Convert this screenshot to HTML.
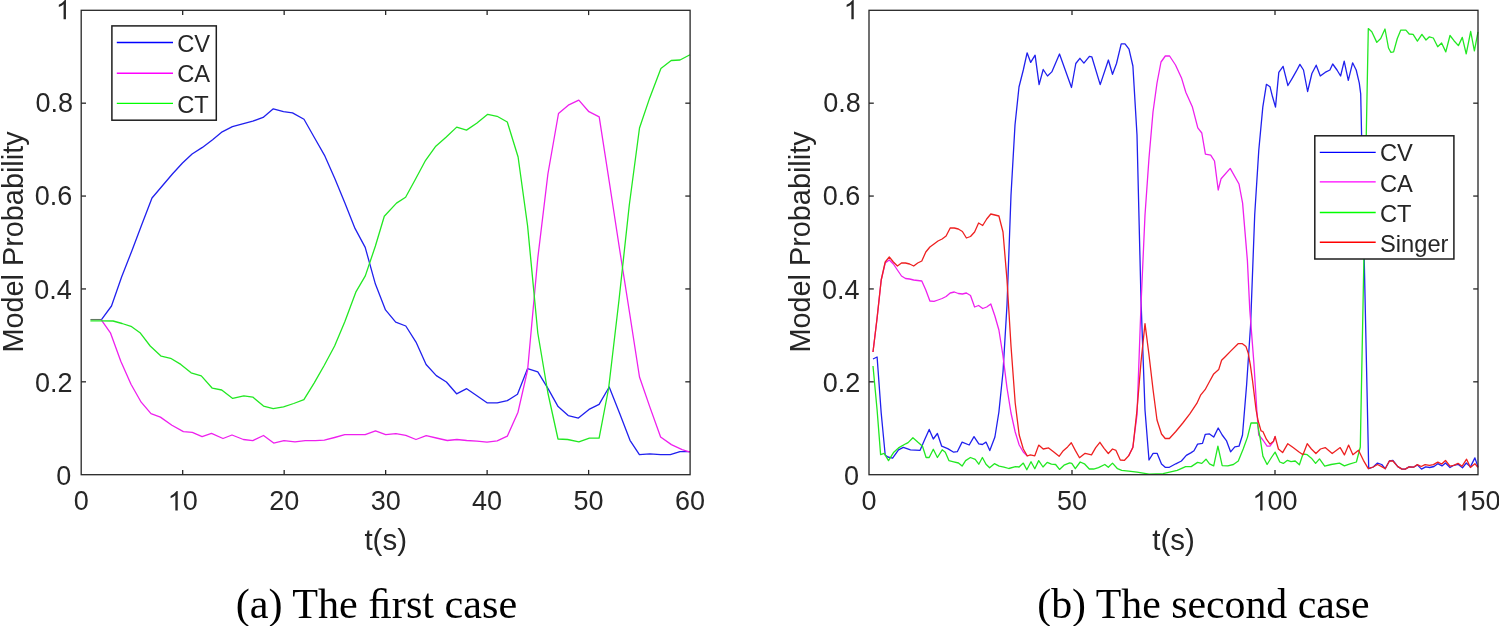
<!DOCTYPE html>
<html><head><meta charset="utf-8"><style>
html,body{margin:0;padding:0;background:#fff;}
body{width:1499px;height:626px;overflow:hidden;}
svg{display:block;will-change:transform;}
text{font-family:"Liberation Sans",sans-serif;fill:#262626;}
.cap{font-family:"Liberation Serif",serif;fill:#000;}
</style></head><body>
<svg width="1499" height="626" viewBox="0 0 1499 626">
<rect width="1499" height="626" fill="#fff"/>
<g fill="none" stroke-width="1.3" stroke-linejoin="round" stroke-linecap="butt">
<polyline points="101.3,319.8 111.5,306.0 121.6,277.0 131.8,251.0 142.0,224.0 152.0,198.0 162.2,186.0 172.4,174.0 182.5,163.0 192.1,154.0 202.4,147.4 212.6,139.7 222.2,131.8 232.4,126.7 242.6,123.8 252.8,121.2 263.1,117.4 273.3,108.8 283.5,111.6 292.5,112.9 304.0,119.3 314.2,137.2 324.4,155.1 334.8,178.5 344.9,203.0 355.0,228.4 365.2,247.4 375.4,284.1 385.5,309.9 395.7,322.1 405.8,326.0 416.0,342.1 426.1,364.5 436.3,375.6 446.4,382.0 456.6,393.8 466.7,388.7 476.9,395.8 487.0,402.8 497.2,402.8 507.3,400.6 517.5,394.2 527.6,368.6 537.8,371.8 547.9,388.4 558.1,406.6 568.2,415.6 578.4,418.1 589.0,409.4 599.1,404.3 609.2,387.0 619.6,413.3 630.0,440.3 639.4,454.7 649.8,453.9 660.6,454.7 670.3,454.7 680.0,451.7 690.0,451.7" stroke="#2020ee"/>
<polyline points="101.3,319.8 110.6,333.2 120.8,361.3 131.0,384.3 141.2,402.2 151.0,413.7 160.4,417.1 171.9,425.2 183.4,431.6 192.3,432.4 202.1,436.7 211.5,433.4 223.0,438.5 232.0,435.0 243.4,439.5 252.8,440.6 263.5,435.5 273.7,443.1 284.0,440.6 295.0,441.9 305.2,440.6 315.4,440.6 324.3,440.1 334.6,437.5 344.8,434.7 355.0,434.7 365.2,434.7 375.5,430.9 385.7,434.7 395.9,433.7 405.8,435.4 416.0,439.5 426.2,435.7 436.3,438.0 447.3,440.5 456.9,439.5 466.7,440.5 476.9,441.2 487.0,442.2 497.2,440.8 507.3,436.2 518.0,412.2 527.6,370.0 537.8,258.0 547.9,174.0 558.5,113.5 568.3,105.2 578.8,100.1 588.9,111.7 599.2,116.8 609.3,182.0 619.4,248.0 629.6,313.0 639.5,377.0 649.8,406.9 660.6,437.0 671.4,444.6 682.1,449.6 690.0,452.1" stroke="#ee20ee"/>
<polyline points="90.4,320.9 101.3,320.8 113.1,321.0 122.1,323.5 131.0,326.3 140.0,332.7 150.2,346.0 161.2,356.2 170.6,358.3 180.8,364.4 191.1,372.8 201.3,375.9 212.3,388.2 221.7,390.0 232.7,398.4 243.8,395.8 252.8,397.1 263.5,406.1 273.2,408.6 283.5,406.8 293.7,403.5 303.9,399.7 314.1,383.1 324.3,365.2 334.6,346.0 344.8,321.7 355.8,292.2 365.3,275.9 375.4,246.0 384.3,216.2 396.5,203.1 405.6,197.3 415.3,179.5 425.6,160.3 435.8,146.2 446.0,137.3 456.7,127.1 466.5,130.1 476.7,123.2 487.7,114.3 497.1,116.3 507.3,122.0 518.1,157.0 527.6,226.0 537.8,333.0 547.9,393.0 558.0,439.0 567.7,439.5 578.9,441.8 589.4,438.1 599.1,438.1 608.6,388.5 619.0,300.0 629.3,205.0 639.5,128.0 649.7,97.9 660.9,68.5 671.2,60.5 680.0,60.0 690.0,54.7" stroke="#22e822"/>
<line x1="90.4" y1="319.5" x2="101.3" y2="319.5" stroke="#5f7a5f" stroke-width="1.1"/>
<polyline points="873.0,359.0 877.1,357.0 881.2,413.0 885.2,455.0 887.8,457.0 892.6,458.2 898.5,449.8 903.3,447.4 910.5,449.8 920.1,450.3 924.4,440.2 929.2,429.4 933.3,439.0 937.4,433.5 941.7,446.2 947.7,448.6 953.7,452.2 957.3,451.7 962.1,442.1 969.2,445.0 974.0,436.6 978.8,443.8 982.4,444.5 986.0,442.1 989.8,450.6 994.9,437.0 998.9,412.0 1003.0,372.0 1007.0,305.0 1011.0,195.0 1015.0,125.0 1019.0,87.0 1023.3,70.0 1027.1,52.8 1030.7,62.4 1035.1,55.2 1039.1,84.6 1043.2,69.5 1047.5,76.0 1051.8,71.9 1059.5,54.0 1065.5,70.7 1071.5,87.5 1075.8,63.5 1079.9,58.3 1083.9,63.1 1089.4,56.4 1091.8,56.8 1100.2,84.6 1108.4,60.0 1112.5,74.3 1116.5,63.5 1121.2,43.9 1125.0,43.9 1129.0,49.2 1132.9,66.0 1137.0,135.0 1141.0,300.0 1145.0,410.0 1149.0,460.0 1153.1,453.3 1157.1,453.3 1161.5,464.0 1165.2,467.3 1169.4,467.3 1175.8,463.8 1181.4,461.0 1186.3,455.4 1191.2,452.6 1194.0,450.7 1197.6,444.1 1202.5,443.4 1205.3,434.3 1209.5,433.9 1213.7,437.1 1218.2,428.0 1222.2,435.0 1226.4,440.6 1230.6,451.8 1234.8,446.9 1239.0,446.2 1242.5,435.0 1246.6,385.0 1250.6,325.0 1254.7,215.0 1258.8,150.0 1262.8,107.1 1266.4,84.3 1270.0,86.7 1272.4,96.3 1275.5,107.1 1278.8,72.4 1283.1,66.4 1287.9,85.5 1292.2,78.3 1296.3,71.2 1299.9,64.4 1303.5,70.0 1307.6,91.5 1311.9,73.5 1316.2,65.2 1320.3,76.0 1325.1,72.4 1329.9,70.0 1332.7,64.0 1337.0,70.0 1340.6,76.0 1344.2,61.1 1348.3,80.3 1352.6,62.8 1356.2,70.0 1359.3,83.1 1360.7,93.8 1368.7,468.7 1373.2,467.0 1377.5,463.1 1381.7,464.5 1385.2,468.7 1389.4,461.0 1392.9,460.3 1397.8,466.6 1402.0,469.1 1405.2,469.1 1409.1,466.9 1413.5,467.2 1417.4,464.9 1421.5,469.1 1425.7,466.9 1429.8,467.5 1434.0,466.5 1437.8,463.7 1442.0,465.9 1445.5,463.0 1450.0,467.5 1453.8,465.3 1458.0,464.3 1462.5,467.8 1466.3,463.0 1470.4,466.9 1474.9,457.9 1478.0,466.9" stroke="#2020ee"/>
<polyline points="873.0,352.0 877.1,318.0 881.2,280.0 885.2,263.0 889.3,260.0 893.4,264.0 897.4,270.0 901.5,276.0 905.5,278.5 909.6,279.0 913.7,280.0 917.7,280.5 921.8,281.0 925.8,290.0 929.9,301.0 934.0,301.4 938.0,300.0 942.1,298.5 946.1,296.5 950.2,293.0 954.3,292.0 958.3,293.5 962.4,294.0 966.4,293.0 970.5,295.5 974.6,307.0 978.6,305.5 982.7,308.5 986.7,307.0 990.8,304.0 994.9,316.0 998.9,330.0 1003.0,356.0 1007.0,388.0 1011.0,413.0 1015.2,432.0 1019.2,445.0 1023.3,452.0 1027.3,456.0" stroke="#ee20ee"/>
<polyline points="1128.7,455.8 1132.9,447.0 1137.0,415.0 1141.0,305.0 1145.0,215.0 1149.0,158.0 1153.0,112.0 1157.0,83.0 1161.0,62.0 1165.3,56.0 1169.6,56.0 1175.5,65.0 1181.5,77.9 1185.8,92.3 1192.3,106.7 1197.8,127.8 1201.8,133.0 1205.4,154.1 1210.7,155.1 1214.5,161.0 1218.2,190.0 1221.1,178.7 1230.2,168.4 1239.0,184.0 1242.6,203.1 1245.0,231.9 1247.4,260.6 1249.8,310.0 1253.9,363.1 1256.8,410.0 1258.7,435.0 1262.9,440.0 1267.1,446.2 1270.0,446.2 1273.5,441.3 1275.1,436.4" stroke="#ee20ee"/>
<polyline points="873.0,366.0 877.1,410.0 880.6,454.6 884.2,453.4 888.5,460.6 893.8,452.2 898.5,447.9 905.7,443.8 908.1,442.6 912.9,437.8 917.7,442.1 922.5,446.2 926.1,457.5 929.2,457.5 933.3,449.3 937.4,457.5 942.2,449.8 945.3,452.2 948.9,460.6 953.7,461.8 958.5,463.0 962.1,466.1 965.6,460.6 970.4,457.5 975.2,459.4 978.8,464.2 982.4,457.5 986.0,464.2 989.6,467.8 994.4,463.7 999.2,466.1 1004.0,467.1 1008.8,468.5 1015.5,466.6 1019.1,467.0 1023.3,463.1 1026.8,469.8 1031.0,461.7 1034.8,468.7 1038.7,460.6 1043.0,467.0 1047.2,462.4 1051.4,464.2 1055.6,464.5 1059.5,469.4 1064.0,465.2 1069.7,462.8 1071.8,463.4 1075.3,468.7 1080.2,462.0 1084.4,463.8 1089.3,469.0 1093.6,469.0 1098.5,467.6 1104.8,464.5 1108.3,467.3 1112.5,463.1 1117.5,468.7 1121.7,470.4 1128.7,471.2 1137.1,472.2 1149.1,474.1 1163.1,473.6 1177.2,470.4 1185.6,466.6 1191.2,466.6 1197.6,462.4 1201.8,463.4 1206.0,459.2 1209.5,463.8 1213.7,465.9 1217.9,446.2 1222.2,465.6 1227.8,465.9 1233.4,464.5 1238.3,461.0 1243.2,449.0 1247.5,437.1 1251.0,423.0 1257.3,423.0 1260.1,437.8 1262.9,456.1 1267.1,464.5 1271.4,457.5 1275.1,452.1 1279.8,462.0 1283.3,463.4 1287.5,460.3 1291.0,461.7 1295.2,461.0 1299.4,464.8 1303.0,454.0 1307.2,454.7 1311.4,458.2 1315.6,463.4 1319.5,458.9 1324.7,466.2 1331.1,464.5 1339.5,463.1 1344.4,465.9 1349.3,464.2 1356.4,462.0 1360.3,447.0 1368.3,28.6 1371.8,31.8 1376.8,42.4 1380.7,38.5 1385.0,29.0 1388.5,48.0 1390.8,52.3 1393.6,51.9 1397.3,38.5 1400.8,30.1 1405.9,30.1 1409.2,34.0 1413.1,34.4 1417.4,41.1 1421.9,34.4 1426.0,40.0 1429.4,36.8 1433.3,38.0 1437.7,46.7 1441.6,43.0 1445.8,51.9 1450.0,35.5 1454.0,40.7 1458.4,45.6 1462.3,37.4 1466.2,53.8 1470.7,31.5 1474.4,50.8 1478.0,31.8" stroke="#22e822"/>
<polyline points="873.0,352.0 877.1,318.0 881.2,280.0 885.2,262.0 889.3,257.0 893.4,262.0 897.4,266.0 901.5,263.0 905.5,263.0 909.6,264.0 913.7,266.0 917.7,263.0 921.8,261.0 925.8,252.0 929.9,247.0 934.0,244.0 938.0,241.0 942.1,239.0 946.1,236.0 950.2,228.0 954.3,228.0 958.3,229.0 962.4,231.5 966.4,238.0 970.5,236.5 974.6,232.0 978.6,223.0 982.7,225.5 986.7,219.0 990.8,214.0 994.9,215.0 998.9,216.0 1003.0,232.0 1007.0,280.0 1011.0,346.0 1015.2,403.0 1019.2,435.0 1023.3,449.0 1027.3,456.0 1030.3,454.9 1034.8,455.8 1038.7,445.1 1043.2,449.0 1048.6,447.9 1053.5,451.8 1059.1,456.3 1063.3,450.7 1067.6,446.9 1071.3,442.7 1075.3,450.4 1079.5,457.8 1085.1,453.3 1091.5,454.9 1095.7,447.6 1099.9,442.3 1104.1,448.3 1108.3,453.5 1112.5,449.0 1116.0,450.4 1120.3,460.0 1124.5,460.3 1128.7,455.8 1132.9,447.5 1137.0,410.0 1141.0,362.0 1145.0,323.6 1149.0,355.0 1153.1,390.0 1157.0,420.0 1161.5,434.0 1165.2,438.5 1169.4,438.5 1175.8,431.5 1182.8,423.0 1189.8,413.9 1196.8,403.4 1200.8,394.8 1205.1,389.7 1209.4,381.8 1213.7,373.9 1218.7,369.6 1221.6,360.3 1225.2,356.7 1230.9,350.9 1238.1,343.7 1242.4,343.7 1246.0,346.6 1248.2,353.1 1250.3,364.6 1252.5,380.4 1256.1,410.0 1258.1,420.8 1261.0,430.8 1262.9,431.5 1266.4,439.2 1270.0,444.1 1273.5,441.3 1275.1,436.4 1278.4,449.0 1282.6,452.6 1287.8,443.7 1293.1,447.6 1298.7,451.8 1303.0,454.7 1307.2,443.7 1311.4,449.0 1315.9,453.5 1320.5,449.0 1325.2,447.6 1332.2,453.5 1340.2,447.6 1344.4,454.9 1348.6,445.1 1352.9,454.7 1358.5,450.2 1363.4,460.3 1368.3,468.7 1373.2,467.0 1377.5,464.5 1381.7,466.6 1385.2,468.7 1389.4,461.0 1392.9,461.0 1397.8,466.6 1402.0,469.1 1405.2,469.1 1409.1,466.9 1413.5,467.2 1417.4,464.6 1421.2,466.5 1425.1,464.6 1429.5,465.3 1433.4,464.6 1437.8,462.1 1441.7,464.0 1445.5,460.5 1450.0,466.2 1453.8,465.3 1458.0,463.3 1462.1,466.2 1466.6,459.2 1470.4,467.5 1474.9,463.7 1478.0,467.5" stroke="#ee2020"/>
</g>
<g stroke="#262626" stroke-width="1.3" fill="none">
<line x1="182.68" y1="474.7" x2="182.68" y2="469.9"/>
<line x1="182.68" y1="10.3" x2="182.68" y2="15.100000000000001"/>
<line x1="284.17" y1="474.7" x2="284.17" y2="469.9"/>
<line x1="284.17" y1="10.3" x2="284.17" y2="15.100000000000001"/>
<line x1="385.65" y1="474.7" x2="385.65" y2="469.9"/>
<line x1="385.65" y1="10.3" x2="385.65" y2="15.100000000000001"/>
<line x1="487.13" y1="474.7" x2="487.13" y2="469.9"/>
<line x1="487.13" y1="10.3" x2="487.13" y2="15.100000000000001"/>
<line x1="588.62" y1="474.7" x2="588.62" y2="469.9"/>
<line x1="588.62" y1="10.3" x2="588.62" y2="15.100000000000001"/>
<line x1="81.2" y1="381.82" x2="86.0" y2="381.82"/>
<line x1="690.1" y1="381.82" x2="685.3000000000001" y2="381.82"/>
<line x1="81.2" y1="288.94" x2="86.0" y2="288.94"/>
<line x1="690.1" y1="288.94" x2="685.3000000000001" y2="288.94"/>
<line x1="81.2" y1="196.06" x2="86.0" y2="196.06"/>
<line x1="690.1" y1="196.06" x2="685.3000000000001" y2="196.06"/>
<line x1="81.2" y1="103.18" x2="86.0" y2="103.18"/>
<line x1="690.1" y1="103.18" x2="685.3000000000001" y2="103.18"/>
<rect x="81.2" y="10.3" width="608.9" height="464.4" fill="none"/>
<line x1="1072.00" y1="474.7" x2="1072.00" y2="469.9"/>
<line x1="1072.00" y1="10.3" x2="1072.00" y2="15.100000000000001"/>
<line x1="1275.00" y1="474.7" x2="1275.00" y2="469.9"/>
<line x1="1275.00" y1="10.3" x2="1275.00" y2="15.100000000000001"/>
<line x1="869.0" y1="381.82" x2="873.8" y2="381.82"/>
<line x1="1478.0" y1="381.82" x2="1473.2" y2="381.82"/>
<line x1="869.0" y1="288.94" x2="873.8" y2="288.94"/>
<line x1="1478.0" y1="288.94" x2="1473.2" y2="288.94"/>
<line x1="869.0" y1="196.06" x2="873.8" y2="196.06"/>
<line x1="1478.0" y1="196.06" x2="1473.2" y2="196.06"/>
<line x1="869.0" y1="103.18" x2="873.8" y2="103.18"/>
<line x1="1478.0" y1="103.18" x2="1473.2" y2="103.18"/>
<rect x="869.0" y="10.3" width="609.0" height="464.4" fill="none"/>
</g>
<g>
<text x="81.20" y="510.40" text-anchor="middle" font-size="27">0</text>
<path d="M177.73,510.40 L175.35,510.40 L175.35,495.28 Q174.00,496.69 170.61,498.21 L170.61,495.90 Q174.52,494.05 176.70,491.07 L177.73,491.07 Z" fill="#262626" stroke="none"/>
<text x="182.68" y="510.40" font-size="27">0</text>
<text x="284.17" y="510.40" text-anchor="middle" font-size="27">20</text>
<text x="385.65" y="510.40" text-anchor="middle" font-size="27">30</text>
<text x="487.13" y="510.40" text-anchor="middle" font-size="27">40</text>
<text x="588.62" y="510.40" text-anchor="middle" font-size="27">50</text>
<text x="690.10" y="510.40" text-anchor="middle" font-size="27">60</text>
<text x="71.20" y="484.70" text-anchor="end" font-size="27">0</text>
<text x="72.60" y="391.82" text-anchor="end" font-size="27">0.2</text>
<text x="71.80" y="299.24" text-anchor="end" font-size="27">0.4</text>
<text x="72.40" y="204.86" text-anchor="end" font-size="27">0.6</text>
<text x="73.00" y="112.18" text-anchor="end" font-size="27">0.8</text>
<path d="M65.94,19.30 L63.57,19.30 L63.57,4.18 Q62.21,5.59 58.82,7.11 L58.82,4.80 Q62.74,2.95 64.91,-0.03 L65.94,-0.03 Z" fill="#262626" stroke="none"/>
<text x="869.00" y="510.40" text-anchor="middle" font-size="27">0</text>
<text x="1072.00" y="510.40" text-anchor="middle" font-size="27">50</text>
<path d="M1262.53,510.40 L1260.16,510.40 L1260.16,495.28 Q1258.80,496.69 1255.42,498.21 L1255.42,495.90 Q1259.33,494.05 1261.51,491.07 L1262.53,491.07 Z" fill="#262626" stroke="none"/>
<text x="1267.49" y="510.40" font-size="27">0</text>
<text x="1282.51" y="510.40" font-size="27">0</text>
<path d="M1465.53,510.40 L1463.16,510.40 L1463.16,495.28 Q1461.80,496.69 1458.42,498.21 L1458.42,495.90 Q1462.33,494.05 1464.51,491.07 L1465.53,491.07 Z" fill="#262626" stroke="none"/>
<text x="1470.49" y="510.40" font-size="27">5</text>
<text x="1485.51" y="510.40" font-size="27">0</text>
<text x="859.00" y="484.70" text-anchor="end" font-size="27">0</text>
<text x="860.40" y="391.82" text-anchor="end" font-size="27">0.2</text>
<text x="859.60" y="299.24" text-anchor="end" font-size="27">0.4</text>
<text x="860.20" y="204.86" text-anchor="end" font-size="27">0.6</text>
<text x="860.80" y="112.18" text-anchor="end" font-size="27">0.8</text>
<path d="M853.74,19.30 L851.37,19.30 L851.37,4.18 Q850.01,5.59 846.62,7.11 L846.62,4.80 Q850.54,2.95 852.71,-0.03 L853.74,-0.03 Z" fill="#262626" stroke="none"/>
</g>
<g font-size="29.5">
<text x="385.7" y="549.8" text-anchor="middle">t(s)</text>
<text x="1173.5" y="549.8" text-anchor="middle">t(s)</text>
</g>
<g font-size="29.8">
<text transform="translate(22.7,242) rotate(-90) scale(0.968,1)" text-anchor="middle">Model Probability</text>
<text transform="translate(810.4,242) rotate(-90) scale(0.968,1)" text-anchor="middle">Model Probability</text>
</g>
<rect x="111.9" y="25.9" width="104.4" height="94.30000000000001" fill="#fff" stroke="#1e1e1e" stroke-width="1.5"/>
<line x1="116.8" y1="42.5" x2="173" y2="42.5" stroke="#0000ff" stroke-width="1.4"/>
<text x="177.2" y="52.00" font-size="23.7">CV</text>
<line x1="116.8" y1="73.3" x2="173" y2="73.3" stroke="#ff00ff" stroke-width="1.4"/>
<text x="177.2" y="82.10" font-size="23.7">CA</text>
<line x1="116.8" y1="103.4" x2="173" y2="103.4" stroke="#00ff00" stroke-width="1.4"/>
<text x="177.2" y="112.90" font-size="23.7">CT</text>
<rect x="1314.8" y="135.8" width="139.10000000000014" height="123.19999999999999" fill="#fff" stroke="#1e1e1e" stroke-width="1.5"/>
<line x1="1319.8" y1="152.4" x2="1375.7" y2="152.4" stroke="#0000ff" stroke-width="1.4"/>
<text x="1380.0" y="160.90" font-size="23.7">CV</text>
<line x1="1319.8" y1="181.9" x2="1375.7" y2="181.9" stroke="#ff00ff" stroke-width="1.4"/>
<text x="1380.0" y="192.00" font-size="23.7">CA</text>
<line x1="1319.8" y1="212.5" x2="1375.7" y2="212.5" stroke="#00ff00" stroke-width="1.4"/>
<text x="1380.0" y="221.80" font-size="23.7">CT</text>
<line x1="1319.8" y1="242.3" x2="1375.7" y2="242.3" stroke="#ff0000" stroke-width="1.4"/>
<text x="1380.0" y="252.40" font-size="23.7">Singer</text>
<text class="cap" x="376.4" y="617.7" font-size="42.2" text-anchor="middle">(a) The &#xFB01;rst case</text>
<text class="cap" x="1203.45" y="617.7" font-size="41.8" text-anchor="middle">(b) The second case</text>
</svg>
</body></html>
